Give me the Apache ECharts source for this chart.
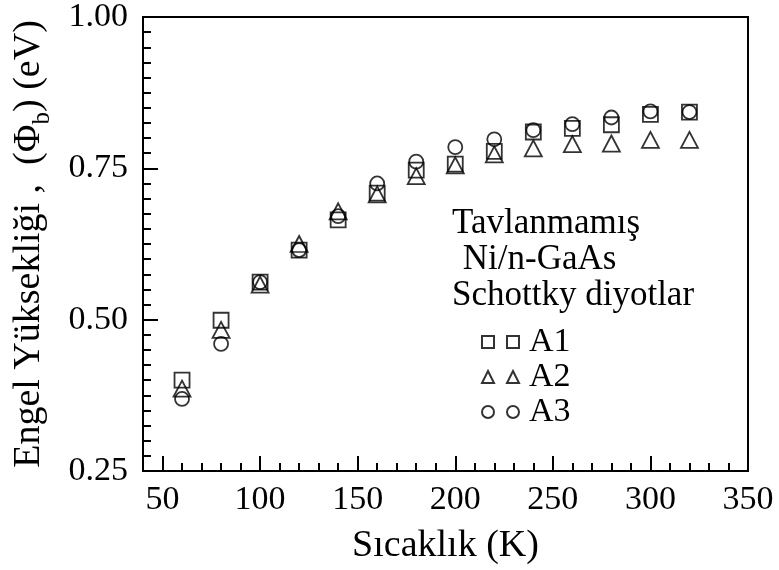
<!DOCTYPE html>
<html>
<head>
<meta charset="utf-8">
<script src="https://cdn.jsdelivr.net/npm/echarts@6/dist/echarts.min.js"></script>
<style>
html,body{margin:0;padding:0;background:#fff;}
#chart{width:779px;height:570px;}
</style>
</head>
<body>
<div id="chart"></div>
<script>
// ---- data ----
var temperatures = [60, 80, 100, 120, 140, 160, 180, 200, 220, 240, 260, 280, 300, 320];
var seriesA1 = [0.400, 0.499, 0.562, 0.615, 0.665, 0.709, 0.747, 0.757, 0.778, 0.810, 0.816, 0.822, 0.839, 0.843];
var seriesA2 = [0.386, 0.483, 0.558, 0.625, 0.679, 0.707, 0.737, 0.755, 0.773, 0.783, 0.790, 0.791, 0.797, 0.797];
var seriesA3 = [0.369, 0.460, 0.562, 0.615, 0.671, 0.725, 0.761, 0.785, 0.798, 0.813, 0.823, 0.834, 0.844, 0.843];
var xMajorTicks = [50, 100, 150, 200, 250, 300, 350];
var seriesNames = ['A1', 'A2', 'A3'];
var noteLines = ['Tavlanmamış', ' Ni/n-GaAs', 'Schottky diyotlar'];

var FONT = 'Liberation Serif';
function pairs(xs, ys) { return xs.map(function (x, i) { return [x, ys[i]]; }); }

var chart = echarts.init(document.getElementById('chart'), null, {renderer: 'canvas'});
var markerStyle = {color: 'rgba(0,0,0,0)', borderColor: '#000', borderWidth: 1.8};

var option = {
  backgroundColor: '#fff',
  animation: false,
  grid: {left: 143, right: 31, top: 16, bottom: 98, show: true, borderColor: '#000', borderWidth: 2, backgroundColor: 'transparent'},
  xAxis: [{
    type: 'value', min: 40, max: 350, position: 'bottom',
    name: 'Sıcaklık (K)', nameLocation: 'middle', nameGap: 56,
    nameTextStyle: {fontFamily: FONT, fontSize: 38, color: '#000'},
    axisLine: {show: true, onZero: false, lineStyle: {color: '#000', width: 2}},
    axisTick: {show: true, inside: true, length: 15, customValues: xMajorTicks, lineStyle: {color: '#000', width: 2}},
    axisLabel: {show: true, customValues: xMajorTicks, margin: 12, fontFamily: FONT, fontSize: 34, color: '#000'},
    splitLine: {show: false}
  }, {
    type: 'value', min: 40, max: 350, interval: 10, position: 'bottom',
    axisLine: {show: false},
    axisTick: {show: true, inside: true, length: 8, lineStyle: {color: '#000', width: 2}},
    axisLabel: {show: false},
    splitLine: {show: false}
  }],
  yAxis: {
    type: 'value', min: 0.25, max: 1.0, interval: 0.25,
    name: '{a|Engel Yüksekliği ,  (Φ}{s|b}{a|) (eV)}',
    nameLocation: 'middle', nameGap: 95, nameRotate: 90,
    nameTextStyle: {
      rich: {
        a: {fontFamily: FONT, fontSize: 38, color: '#000', lineHeight: 40, verticalAlign: 'bottom'},
        s: {fontFamily: FONT, fontSize: 25, color: '#000', lineHeight: 40, verticalAlign: 'bottom', padding: [0, 0, -7, 0]}
      }
    },
    axisLine: {show: true, onZero: false, lineStyle: {color: '#000', width: 2}},
    axisTick: {show: true, inside: true, length: 15, lineStyle: {color: '#000', width: 2}},
    minorTick: {show: true, splitNumber: 10, length: 8, lineStyle: {color: '#000', width: 2}},
    axisLabel: {show: true, margin: 15, fontFamily: FONT, fontSize: 34, color: '#000', formatter: function (v) { return v.toFixed(2); }},
    splitLine: {show: false},
    minorSplitLine: {show: false}
  },
  legend: {
    orient: 'vertical', left: 476, top: 320, itemGap: 1,
    itemWidth: 37, itemHeight: 12,
    textStyle: {fontFamily: FONT, fontSize: 34, color: '#000', lineHeight: 31, padding: [0, 0, 0, 5]},
    data: [
      {name: seriesNames[0], icon: 'path://M0,0H12V12H0Z M25,0H37V12H25Z'},
      {name: seriesNames[1], icon: 'path://M6,0L12,12H0Z M31,0L37,12H25Z'},
      {name: seriesNames[2], icon: 'path://M0,6A6,6 0 1,0 12,6A6,6 0 1,0 0,6Z M25,6A6,6 0 1,0 37,6A6,6 0 1,0 25,6Z'}
    ]
  },
  graphic: [
    {type: 'text', left: 452, top: 206, style: {text: noteLines[0], font: '35px "' + FONT + '"', fill: '#000'}},
    {type: 'text', left: 454, top: 242, style: {text: noteLines[1], font: '35px "' + FONT + '"', fill: '#000'}},
    {type: 'text', left: 452, top: 278, style: {text: noteLines[2], font: '35px "' + FONT + '"', fill: '#000'}}
  ],
  series: [
    {name: seriesNames[0], type: 'scatter', xAxisIndex: 0, symbol: 'rect', symbolSize: 15, itemStyle: markerStyle, data: pairs(temperatures, seriesA1)},
    {name: seriesNames[1], type: 'scatter', xAxisIndex: 0, symbol: 'triangle', symbolSize: [17, 16], itemStyle: markerStyle, data: pairs(temperatures, seriesA2)},
    {name: seriesNames[2], type: 'scatter', xAxisIndex: 0, symbol: 'circle', symbolSize: 14, itemStyle: markerStyle, data: pairs(temperatures, seriesA3)}
  ]
};
chart.setOption(option);
</script>
</body>
</html>
